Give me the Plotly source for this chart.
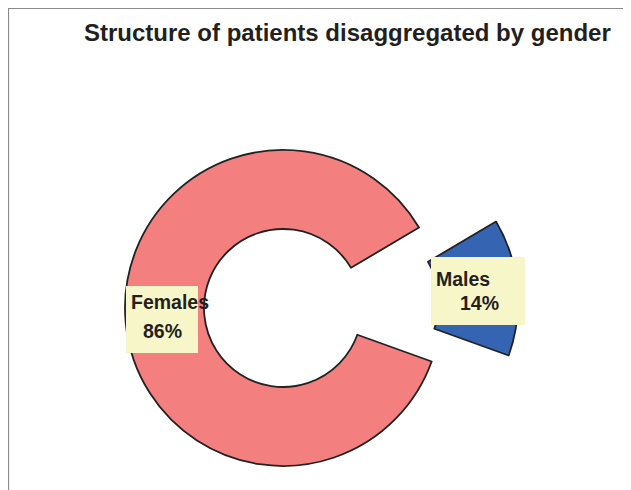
import plotly.graph_objects as go

# ---- data ----
labels = ["Males", "Females"]
values = [14, 86]
colors = ["#3464B2", "#F47F7F"]
title_text = "Structure of patients disaggregated by gender"

OFF = 8  # page body margin
W, H = 631 - OFF, 490 - OFF

def px(x):
    return (x - OFF) / W

def py(y):
    return 1 - (y - OFF) / H

R = 158  # outer radius in px

def domain(cx, cy):
    return dict(x=[px(cx - R), px(cx + R)], y=[py(cy + R), py(cy - R)])

transparent = "rgba(0,0,0,0)"
line_col = "#222222"

fig = go.Figure()
# main ring (Females) - Males slice invisible
fig.add_trace(go.Pie(
    labels=labels, values=values, sort=False, direction="clockwise",
    rotation=59.4, hole=0.5, textinfo="none", hoverinfo="skip",
    marker=dict(colors=[transparent, colors[1]],
                line=dict(color=[transparent, line_col], width=[0, 1.8])),
    domain=domain(283, 308), showlegend=False,
))
# exploded Males slice
fig.add_trace(go.Pie(
    labels=labels, values=values, sort=False, direction="clockwise",
    rotation=59.4, hole=0.5, textinfo="none", hoverinfo="skip",
    marker=dict(colors=[colors[0], transparent],
                line=dict(color=[line_col, transparent], width=[1.8, 0])),
    domain=domain(360, 302), showlegend=False,
))

shapes = [
    # frame
    dict(type="rect", xref="paper", yref="paper",
         x0=px(8.5), x1=px(630), y0=py(520), y1=py(8.5),
         line=dict(color="#8a8a8a", width=1.2), fillcolor=transparent, layer="below"),
    # label boxes
    dict(type="rect", xref="paper", yref="paper",
         x0=px(126), x1=px(198), y0=py(353), y1=py(286),
         line=dict(width=0), fillcolor="#F7F6C9"),
    dict(type="rect", xref="paper", yref="paper",
         x0=px(431), x1=px(525), y0=py(325), y1=py(257),
         line=dict(width=0), fillcolor="#F7F6C9"),
]

font_lbl = dict(family="Liberation Sans, Arial, sans-serif", size=19.5, color="#231f20")
annotations = [
    dict(text="<b>" + title_text + "</b>", x=px(347.5), y=py(32), xref="paper", yref="paper",
         showarrow=False, xanchor="center", yanchor="middle",
         font=dict(family="Liberation Sans, Arial, sans-serif", size=24, color="#231f20")),
    dict(text="<b>" + labels[1] + "</b>", x=px(129), y=py(302), xref="paper", yref="paper",
         showarrow=False, xanchor="left", yanchor="middle", font=font_lbl),
    dict(text="<b>" + str(values[1]) + "%</b>", x=px(162), y=py(331), xref="paper", yref="paper",
         showarrow=False, xanchor="center", yanchor="middle", font=font_lbl),
    dict(text="<b>" + labels[0] + "</b>", x=px(434), y=py(279), xref="paper", yref="paper",
         showarrow=False, xanchor="left", yanchor="middle", font=font_lbl),
    dict(text="<b>" + str(values[0]) + "%</b>", x=px(479), y=py(303), xref="paper", yref="paper",
         showarrow=False, xanchor="center", yanchor="middle", font=font_lbl),
]

fig.update_layout(
    width=W, height=H,
    margin=dict(l=0, r=0, t=0, b=0),
    paper_bgcolor="white", plot_bgcolor="white",
    shapes=shapes, annotations=annotations,
)

fig.write_html("out.html")
